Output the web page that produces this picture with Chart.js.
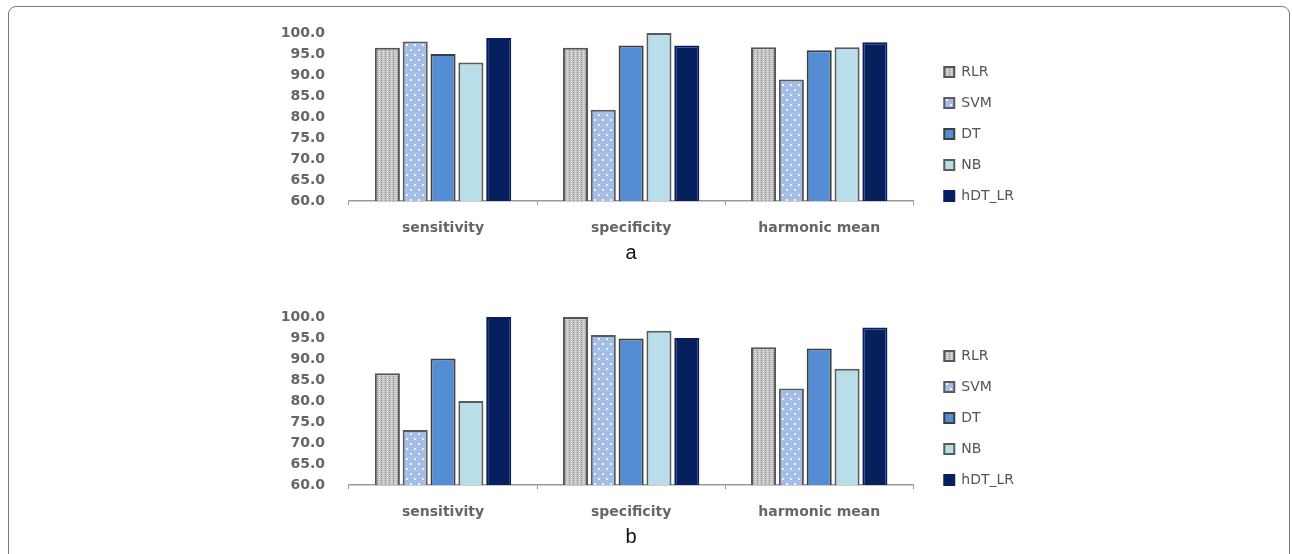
<!DOCTYPE html>
<html lang="en">
  <head>
    <meta charset="UTF-8" />
    <title>RLR, SVM, DT, NB, hDT_LR</title>
    <script src="https://cdn.jsdelivr.net/npm/chart.js"></script>
    <style>
      body { margin: 0; background: #fff; width: 1292px; height: 554px; overflow: hidden; position: relative; }
      .frame { position: absolute; left: 8px; top: 6px; width: 1280px; height: 620px; border: 1px solid #777; border-radius: 8px; }
      canvas { position: absolute; }
    </style>
  </head>
  <body>
    <div class="frame"></div>
    <canvas id="chartA" width="755" height="264" style="left:269px; top:2px"></canvas>
    <canvas id="chartB" width="755" height="264" style="left:269px; top:286px"></canvas>

    <script>
      const categories = ["sensitivity", "specificity", "harmonic mean"];
      const methods = ["RLR", "SVM", "DT", "NB", "hDT_LR"];

      // figure a
      const rlrA = [96.5, 96.5, 96.6];
      const svmA = [98.0, 81.7, 88.9];
      const dtA = [95.0, 97.0, 95.9];
      const nbA = [93.0, 100.0, 96.6];
      const hdtA = [98.8, 97.0, 97.8];

      // figure b
      const rlrB = [86.6, 100.0, 92.8];
      const svmB = [73.1, 95.7, 83.0];
      const dtB = [90.1, 94.9, 92.5];
      const nbB = [80.0, 96.7, 87.7];
      const hdtB = [100.0, 95.0, 97.5];

      const yMin = 60;
      const yMax = 100;
      const yStep = 5;

      // fill patterns like the excel textures
      function greyPattern() {
        const c = document.createElement("canvas");
        c.width = 4;
        c.height = 4;
        const g = c.getContext("2d");
        g.fillStyle = "#c6c6c6";
        g.fillRect(0, 0, 4, 4);
        g.fillStyle = "#8e8e8e";
        g.fillRect(0, 0, 1, 1);
        g.fillRect(0, 2, 1, 1);
        g.fillStyle = "#dedede";
        g.fillRect(2, 1, 1, 1);
        g.fillRect(2, 3, 1, 1);
        return g.createPattern(c, "repeat");
      }

      function dotPattern() {
        const c = document.createElement("canvas");
        c.width = 8;
        c.height = 10;
        const g = c.getContext("2d");
        g.fillStyle = "#a3bde6";
        g.fillRect(0, 0, 8, 10);
        g.fillStyle = "#eef4ff";
        g.fillRect(1, 2, 2, 2);
        g.fillRect(5, 7, 2, 2);
        return g.createPattern(c, "repeat");
      }

      const fills = [greyPattern(), dotPattern(), "#548dd4", "#b8dfe9", "#06205e"];
      const borders = ["#555555", "#5a5a5a", "#3d3d3d", "#5a5a5a", "#0b1b66"];

      function makeChart(id, series, letter) {
        const datasets = series.map((values, i) => ({
          label: methods[i],
          data: values,
          backgroundColor: fills[i],
          borderColor: borders[i],
          borderWidth: 2,
          categoryPercentage: 0.74,
          barPercentage: 0.9,
        }));

        return new Chart(document.getElementById(id), {
          type: "bar",
          data: { labels: categories, datasets: datasets },
          options: {
            responsive: false,
            animation: false,
            layout: { padding: 0 },
            plugins: {
              title: {
                display: true,
                text: "",
                font: { size: 12 },
                padding: { top: 0, bottom: 16.6 },
              },
              legend: {
                position: "right",
                labels: {
                  boxWidth: 10,
                  boxHeight: 10,
                  padding: 17,
                  color: "#555",
                  font: { family: "DejaVu Sans", size: 14 },
                },
              },
              tooltip: { enabled: false },
            },
            scales: {
              x: {
                grid: {
                  display: true,
                  drawOnChartArea: false,
                  tickLength: 4,
                  color: "#999",
                },
                border: { color: "#999", width: 1.5 },
                ticks: {
                  padding: 15,
                  color: "#666",
                  font: { family: "DejaVu Sans", size: 14, weight: "bold" },
                },
                title: {
                  display: true,
                  text: letter,
                  color: "#111",
                  font: { family: "Liberation Sans", size: 20 },
                  // ticks already reserve padding twice
                  padding: { top: -10.8, bottom: 1 },
                },
              },
              y: {
                min: yMin,
                max: yMax,
                grid: { display: false },
                border: { display: false },
                ticks: {
                  stepSize: yStep,
                  padding: 16,
                  color: "#666",
                  font: { family: "DejaVu Sans", size: 14, weight: "bold" },
                  callback: (v) => v.toFixed(1),
                },
                afterFit: (scale) => {
                  scale.width = 80;
                },
              },
              gap: {
                position: "right",
                display: true,
                grid: { display: false },
                border: { display: false },
                ticks: { display: false },
                afterFit: (scale) => {
                  scale.width = 14;
                },
              },
            },
          },
        });
      }

      makeChart("chartA", [rlrA, svmA, dtA, nbA, hdtA], "a");
      makeChart("chartB", [rlrB, svmB, dtB, nbB, hdtB], "b");
    </script>
  </body>
</html>
